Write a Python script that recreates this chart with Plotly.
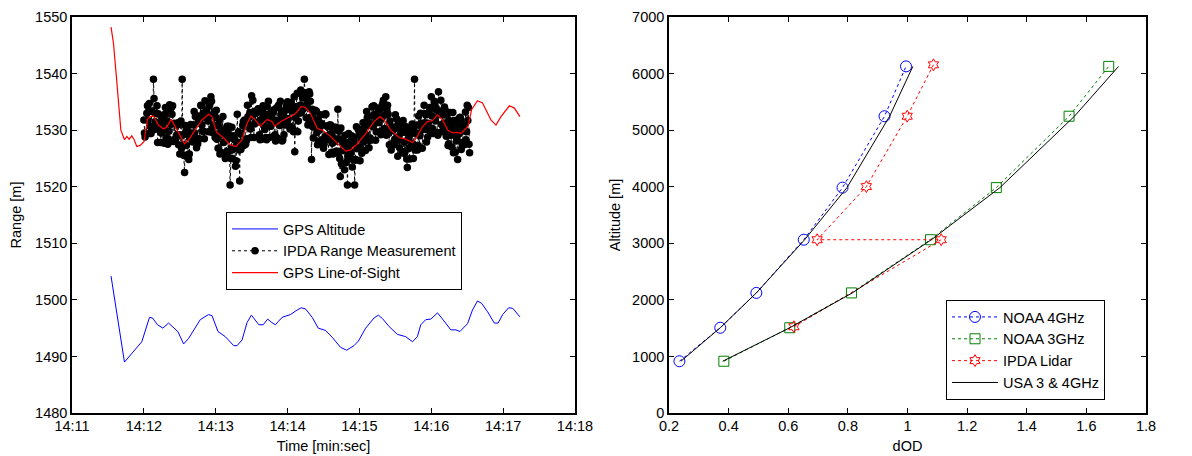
import plotly.graph_objects as go

# ---------------- Left panel data (time in seconds after 14:11:00) ----------------
gps_alt_t = [32.6, 43.8, 58.3, 64.7, 67.2, 71.4, 75.9, 80.6, 88.4, 93.2, 97.4, 107.1, 114.0, 116.9,
             121.9, 128.0, 135.0, 137.8, 142.0, 146.2, 149.8, 152.6, 156.0, 159.6, 163.4, 166.8,
             169.8, 175.4, 182.4, 188.0, 191.4, 195.0, 200.6, 205.6, 211.7, 217.2, 224.3, 229.3,
             235.4, 239.1, 245.2, 252.2, 255.8, 259.2, 264.7, 271.7, 278.6, 284.3, 288.4, 291.2,
             295.4, 299.6, 305.2, 309.4, 316.3, 320.5, 323.9, 330.3, 334.4, 338.6, 342.0, 347.0,
             352.6, 355.8, 359.6, 364.6, 368.0, 374.0]
gps_alt_v = [1504.2, 1489.0, 1492.6, 1496.9, 1496.8, 1495.6, 1495.0, 1495.9, 1494.4, 1492.2, 1493.2,
             1496.5, 1497.4, 1497.2, 1494.4, 1493.5, 1491.9, 1491.9, 1492.9, 1496.0, 1497.3, 1496.5,
             1495.6, 1495.6, 1496.6, 1496.0, 1495.6, 1496.9, 1497.4, 1498.2, 1498.6, 1498.4, 1496.9,
             1495.0, 1494.6, 1493.4, 1491.6, 1491.1, 1491.9, 1492.7, 1495.0, 1496.8, 1497.3, 1496.7,
             1495.3, 1493.9, 1493.5, 1492.6, 1493.5, 1495.6, 1496.5, 1496.6, 1497.7, 1496.6, 1494.7,
             1494.7, 1494.4, 1495.8, 1498.2, 1499.8, 1499.4, 1497.9, 1495.9, 1495.9, 1497.4, 1498.6,
             1498.5, 1497.0]

los_t = [32.6, 34.6, 36.8, 38.8, 40.8, 43.8, 45.8, 47.7, 49.9, 51.9, 54.1, 56.9, 60.2, 63.0, 65.3,
         68.0, 72.2, 76.4, 79.2, 82.9, 86.2, 90.4, 94.0, 97.4, 103.0, 108.5, 114.1, 116.9, 120.5,
         126.6, 132.2, 137.0, 142.0, 146.2, 149.5, 152.6, 157.3, 162.9, 167.1, 169.3, 174.1, 182.4,
         186.6, 191.4, 195.0, 199.2, 204.8, 208.9, 215.9, 222.9, 228.5, 232.7, 238.3, 245.2, 252.2,
         257.2, 260.6, 266.2, 273.1, 278.6, 284.3, 288.4, 292.6, 296.8, 301.0, 305.2, 309.4, 313.6,
         317.8, 321.9, 324.7, 330.8, 333.6, 338.6, 342.8, 349.8, 354.0, 358.2, 365.2, 369.4, 374.0]
los_v = [1548.2, 1545.4, 1540.1, 1535.3, 1530.0, 1528.3, 1528.9, 1528.4, 1529.0, 1528.3, 1527.1,
         1527.3, 1528.0, 1531.9, 1532.4, 1532.5, 1530.9, 1530.2, 1530.6, 1531.9, 1530.6, 1528.9,
         1527.6, 1528.3, 1530.0, 1531.8, 1532.8, 1532.4, 1529.7, 1528.6, 1527.4, 1527.1, 1528.3,
         1531.2, 1532.5, 1531.9, 1530.7, 1531.9, 1531.5, 1530.7, 1531.5, 1532.4, 1532.9, 1534.2,
         1534.0, 1532.9, 1530.3, 1530.0, 1528.9, 1527.4, 1526.3, 1526.5, 1527.6, 1529.4, 1531.5,
         1532.4, 1531.8, 1530.0, 1528.7, 1528.4, 1527.8, 1528.9, 1530.6, 1531.5, 1531.7, 1532.7,
         1531.8, 1530.0, 1529.5, 1529.6, 1529.4, 1530.7, 1533.6, 1535.2, 1534.8, 1531.8, 1530.9,
         1532.4, 1534.3, 1533.9, 1532.4]

# IPDA range measurements, sampled every 0.5 s from 14:12:00 (t = 60 s).
# ipda_v_full: samples on the whole second (60, 61, ... 332 s)
# ipda_v_half: samples on the half second (60.5, 61.5, ... 331.5 s)
ipda_start_s = 60
ipda_v_full = [
    1531.8, 1528.8, 1529.3, 1534.3, 1533.3, 1529.4, 1529.4, 1533.3, 1539.0, 1530.1,
    1530.8, 1534.3, 1532.9, 1530.2, 1527.8, 1532.2, 1530.6, 1527.7, 1534.0, 1532.9,
    1527.5, 1529.8, 1533.2, 1534.0, 1534.3, 1528.1, 1528.4, 1531.0, 1530.9, 1527.4,
    1525.8, 1531.6, 1539.0, 1527.4, 1522.5, 1529.7, 1530.1, 1525.7, 1525.8, 1531.0,
    1529.5, 1527.9, 1533.3, 1532.4, 1526.9, 1527.6, 1532.5, 1532.0, 1534.3, 1529.8,
    1529.8, 1535.2, 1533.5, 1532.1, 1529.7, 1534.5, 1535.9, 1529.6, 1530.9, 1533.3,
    1532.3, 1528.4, 1526.8, 1531.7, 1529.5, 1526.0, 1532.4, 1529.4, 1525.0, 1526.2,
    1529.5, 1530.7, 1520.3, 1526.8, 1525.0, 1529.0, 1528.2, 1524.6, 1532.8, 1529.7,
    1521.0, 1526.6, 1527.4, 1531.5, 1531.8, 1527.5, 1528.5, 1532.4, 1532.3, 1530.2,
    1536.1, 1535.3, 1528.7, 1531.4, 1533.2, 1533.1, 1533.8, 1528.3, 1528.6, 1533.3,
    1532.4, 1530.1, 1528.7, 1534.2, 1535.1, 1528.7, 1530.7, 1532.2, 1533.1, 1529.0,
    1528.1, 1534.0, 1531.6, 1530.9, 1535.1, 1533.4, 1528.3, 1529.2, 1533.5, 1534.3,
    1535.0, 1530.8, 1530.2, 1534.9, 1533.7, 1529.7, 1526.2, 1533.8, 1536.5, 1531.6,
    1533.0, 1537.1, 1536.2, 1533.7, 1539.0, 1535.8, 1534.2, 1530.9, 1536.8, 1535.1,
    1524.8, 1530.6, 1533.2, 1533.5, 1533.4, 1527.4, 1528.0, 1531.0, 1531.2, 1528.0,
    1526.8, 1532.7, 1532.8, 1528.9, 1528.3, 1530.9, 1530.9, 1526.1, 1525.8, 1530.5,
    1528.4, 1526.3, 1533.7, 1529.8, 1521.8, 1524.0, 1528.3, 1527.3, 1529.1, 1524.3,
    1520.3, 1529.4, 1527.5, 1526.0, 1523.5, 1528.7, 1520.3, 1524.8, 1526.7, 1530.1,
    1530.1, 1526.9, 1525.9, 1531.3, 1529.5, 1526.4, 1533.3, 1530.8, 1526.9, 1528.6,
    1532.5, 1534.2, 1534.3, 1531.2, 1529.7, 1533.9, 1533.4, 1529.7, 1529.2, 1534.4,
    1535.3, 1530.3, 1535.9, 1533.6, 1532.8, 1527.4, 1527.3, 1530.6, 1530.0, 1527.4,
    1532.7, 1532.0, 1525.4, 1528.2, 1530.2, 1530.4, 1531.3, 1525.9, 1526.2, 1530.6,
    1523.4, 1526.7, 1524.9, 1530.3, 1531.1, 1525.0, 1539.0, 1529.4, 1530.9, 1527.3,
    1526.9, 1533.0, 1530.7, 1530.1, 1534.4, 1532.9, 1527.9, 1528.8, 1533.1, 1533.8,
    1535.9, 1530.3, 1529.7, 1534.6, 1533.6, 1529.6, 1536.8, 1533.1, 1535.3, 1529.7,
    1530.5, 1534.1, 1532.7, 1529.9, 1527.3, 1531.7, 1530.1, 1527.0, 1533.1, 1531.7,
    1526.1, 1528.1, 1524.8, 1532.0, 1532.3, 1526.6, 1527.4, 1530.6, 1531.1, 1528.3,
    1534.4, 1534.0, 1526.0,
]
ipda_v_half = [
    1529.5, 1529.3, 1533.0, 1531.7, 1534.7, 1530.6, 1533.4, 1530.1, 1535.6, 1531.5,
    1532.9, 1527.8, 1531.0, 1531.2, 1529.5, 1531.9, 1530.0, 1532.8, 1528.6, 1531.6,
    1528.5, 1534.5, 1531.0, 1532.8, 1528.0, 1531.2, 1531.1, 1529.2, 1531.3, 1529.2,
    1531.4, 1526.8, 1529.1, 1525.5, 1530.8, 1527.3, 1529.3, 1524.8, 1528.6, 1529.3,
    1528.1, 1530.9, 1529.5, 1532.5, 1528.5, 1531.5, 1528.5, 1534.4, 1530.9, 1533.0,
    1528.5, 1532.3, 1532.9, 1531.6, 1534.3, 1532.5, 1535.1, 1530.4, 1532.7, 1528.7,
    1533.5, 1529.3, 1530.7, 1525.8, 1529.2, 1529.5, 1527.8, 1530.1, 1528.2, 1530.7,
    1526.1, 1528.6, 1525.0, 1530.5, 1526.6, 1528.4, 1523.6, 1527.3, 1527.7, 1526.5,
    1529.3, 1527.9, 1530.8, 1527.3, 1530.7, 1528.1, 1534.4, 1531.0, 1533.1, 1528.7,
    1532.6, 1532.8, 1531.1, 1533.4, 1531.4, 1533.8, 1529.2, 1531.8, 1528.4, 1534.3,
    1530.7, 1532.8, 1528.3, 1531.9, 1532.3, 1530.7, 1533.1, 1531.2, 1533.6, 1529.2,
    1531.7, 1528.6, 1534.4, 1530.8, 1532.7, 1528.1, 1531.8, 1532.3, 1530.9, 1533.6,
    1532.0, 1534.8, 1530.6, 1533.4, 1530.2, 1535.9, 1532.2, 1534.2, 1529.7, 1533.7,
    1534.4, 1533.1, 1535.7, 1534.0, 1536.6, 1532.2, 1534.7, 1531.1, 1536.4, 1532.3,
    1533.7, 1528.6, 1531.7, 1531.6, 1529.6, 1531.9, 1530.0, 1532.7, 1528.3, 1530.9,
    1527.5, 1532.9, 1528.9, 1530.6, 1525.7, 1529.2, 1529.4, 1527.7, 1530.0, 1528.1,
    1530.5, 1526.0, 1528.5, 1525.0, 1530.4, 1526.4, 1527.9, 1523.0, 1526.4, 1526.8,
    1525.3, 1527.9, 1526.2, 1529.0, 1524.8, 1527.8, 1524.7, 1530.6, 1527.0, 1529.1,
    1524.6, 1528.5, 1529.1, 1527.9, 1530.6, 1529.2, 1532.2, 1528.2, 1531.2, 1528.2,
    1534.1, 1530.6, 1532.7, 1528.2, 1532.0, 1532.6, 1531.3, 1533.8, 1532.1, 1534.7,
    1530.2, 1532.7, 1529.1, 1534.4, 1530.2, 1531.6, 1526.5, 1529.9, 1530.1, 1528.4,
    1530.6, 1528.8, 1531.3, 1526.9, 1529.5, 1526.2, 1531.7, 1527.9, 1529.6, 1524.9,
    1528.4, 1528.7, 1527.0, 1529.4, 1527.6, 1530.5, 1526.5, 1529.5, 1526.5, 1532.5,
    1529.0, 1531.2, 1526.8, 1530.7, 1531.3, 1530.1, 1532.8, 1531.2, 1534.0, 1529.8,
    1532.5, 1529.4, 1535.1, 1531.6, 1533.7, 1529.1, 1532.7, 1532.8, 1531.0, 1533.2,
    1531.2, 1533.6, 1528.9, 1531.3, 1527.6, 1533.1, 1529.1, 1530.8, 1526.0, 1529.6,
    1530.0, 1528.6, 1531.1, 1529.4, 1532.0, 1527.8, 1530.5, 1527.4, 1533.2, 1529.7,
    1531.7, 1527.5,
]
ipda_samples = sorted(
    [(ipda_start_s + i, v) for i, v in enumerate(ipda_v_full)]
    + [(ipda_start_s + i + 0.5, v) for i, v in enumerate(ipda_v_half)]
)
ipda_t = [s[0] for s in ipda_samples]
ipda_v = [s[1] for s in ipda_samples]

time_tick_vals = [0, 60, 120, 180, 240, 300, 360, 420]
time_tick_text = ["14:11", "14:12", "14:13", "14:14", "14:15", "14:16", "14:17", "14:18"]

# ---------------- Right panel data ----------------
altitudes = [915, 1507, 2123, 3063, 3984, 5246, 6127]
noaa_4ghz = [0.235, 0.372, 0.493, 0.652, 0.782, 0.923, 0.995]
noaa_3ghz = [0.384, 0.605, 0.812, 1.077, 1.298, 1.542, 1.675]
usa_4ghz = [0.240, 0.372, 0.493, 0.655, 0.797, 0.940, 1.018]
usa_3ghz = [0.380, 0.605, 0.815, 1.080, 1.310, 1.560, 1.708]
ipda_dod = [0.619, 1.113, 0.697, 0.862, 0.999, 1.087]
ipda_alt = [1525, 3063, 3063, 4002, 5246, 6155]

FONT = "Liberation Sans, Arial, sans-serif"
FS = 14.5

fig = go.Figure()

# Left panel
fig.add_trace(go.Scatter(x=gps_alt_t, y=gps_alt_v, mode="lines", name="GPS Altitude",
                         line=dict(color="#0000ff", width=1), legend="legend", xaxis="x", yaxis="y"))
fig.add_trace(go.Scatter(x=ipda_t, y=ipda_v, mode="lines+markers", name="IPDA Range Measurement",
                         line=dict(color="black", width=1, dash="dot"),
                         marker=dict(color="black", size=7.5, symbol="circle"),
                         legend="legend", xaxis="x", yaxis="y"))
fig.add_trace(go.Scatter(x=los_t, y=los_v, mode="lines", name="GPS Line-of-Sight",
                         line=dict(color="#ff0000", width=1.2), legend="legend", xaxis="x", yaxis="y"))

# Right panel
fig.add_trace(go.Scatter(x=noaa_4ghz, y=altitudes, mode="lines+markers", name="NOAA 4GHz",
                         line=dict(color="#0000ff", width=1, dash="dot"),
                         marker=dict(symbol="circle-open", size=11, color="#0000ff", line=dict(width=1)),
                         legend="legend2", xaxis="x2", yaxis="y2"))
fig.add_trace(go.Scatter(x=noaa_3ghz, y=altitudes, mode="lines+markers", name="NOAA 3GHz",
                         line=dict(color="#008000", width=1, dash="dot"),
                         marker=dict(symbol="square-open", size=10, color="#008000", line=dict(width=1)),
                         legend="legend2", xaxis="x2", yaxis="y2"))
fig.add_trace(go.Scatter(x=ipda_dod, y=ipda_alt, mode="lines+markers", name="IPDA Lidar",
                         line=dict(color="#ff0000", width=1, dash="dot"),
                         marker=dict(symbol="hexagram-open", size=9, color="#ff0000", line=dict(width=1)),
                         legend="legend2", xaxis="x2", yaxis="y2"))
fig.add_trace(go.Scatter(x=usa_4ghz, y=altitudes, mode="lines", name="USA 3 & 4GHz",
                         line=dict(color="black", width=1), legendgroup="usa",
                         legend="legend2", xaxis="x2", yaxis="y2"))
fig.add_trace(go.Scatter(x=usa_3ghz, y=altitudes, mode="lines", name="USA 3 & 4GHz",
                         line=dict(color="black", width=1), legendgroup="usa", showlegend=False,
                         legend="legend2", xaxis="x2", yaxis="y2"))

# The page body margin is removed by a small script, so figure pixels = window pixels.
W, H = 1192, 456


def px(x):
    return x / W


def py(y):
    return 1 - y / H


ydom = [py(413), py(17)]

axis_common = dict(showline=True, linecolor="black", linewidth=1.5, mirror="ticks",
                   ticks="inside", ticklen=5, tickcolor="black", tickwidth=1,
                   showgrid=False, zeroline=False, automargin=False,
                   tickfont=dict(family=FONT, size=FS, color="black"),
                   title_font=dict(family=FONT, size=FS, color="black"))

legend_common = dict(xanchor="left", yanchor="top", bordercolor="black", borderwidth=1,
                     bgcolor="white", font=dict(family=FONT, size=14.5, color="black"),
                     tracegroupgap=0, itemwidth=46)

fig.update_layout(
    width=W, height=H,
    margin=dict(l=0, r=0, t=0, b=0),
    paper_bgcolor="white", plot_bgcolor="white",
    font=dict(family=FONT, size=FS, color="black"),
    xaxis=dict(domain=[px(72), px(575)], range=[0, 420], tickvals=time_tick_vals,
               ticktext=time_tick_text, title=dict(text="Time [min:sec]", standoff=8),
               ticklabelstandoff=-1, anchor="y", **axis_common),
    yaxis=dict(domain=ydom, range=[1480, 1550], dtick=10,
               title=dict(text="Range [m]", standoff=10), anchor="x", **axis_common),
    xaxis2=dict(domain=[px(669), px(1146)], range=[0.2, 1.8], dtick=0.2,
                title=dict(text="dOD", standoff=8), ticklabelstandoff=-1,
                anchor="y2", **axis_common),
    yaxis2=dict(domain=ydom, range=[0, 7000], dtick=1000,
                title=dict(text="Altitude [m]", standoff=8), anchor="x2", **axis_common),
    legend=dict(x=px(226), y=py(212), **legend_common),
    legend2=dict(x=px(946), y=py(300), **legend_common),
    showlegend=True,
)

fig.write_html("out.html",
               config={"displayModeBar": False},
               post_script="document.body.style.margin='0';document.body.style.overflow='hidden';")
